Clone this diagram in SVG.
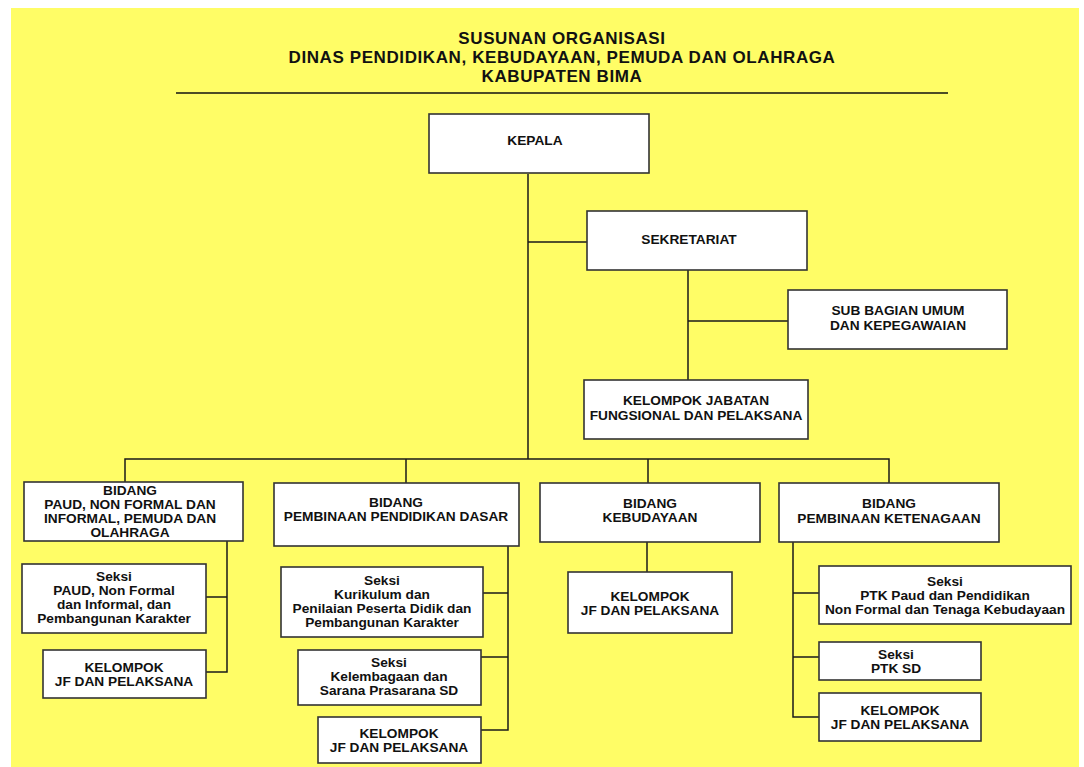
<svg xmlns="http://www.w3.org/2000/svg" width="1084" height="767" viewBox="0 0 1084 767">
<style>
.bg{fill:#FFFD66}
.box{fill:#fff;stroke:#333;stroke-width:1.6}
.ln{fill:none;stroke:#1a1a1a;stroke-width:1.5}
text{font-family:"Liberation Sans",Arial,sans-serif;font-weight:bold;fill:#111;text-anchor:middle}
.t{font-size:13.7px}
.title{font-size:17px;letter-spacing:0.6px}
</style>
<rect x="0" y="0" width="1084" height="767" fill="#fff"/>
<rect class="bg" x="11" y="8" width="1068" height="759"/>
<g id="title">
<text class="title" x="562" y="44">SUSUNAN ORGANISASI</text>
<text class="title" x="562" y="63">DINAS PENDIDIKAN, KEBUDAYAAN, PEMUDA DAN OLAHRAGA</text>
<text class="title" x="562" y="82">KABUPATEN BIMA</text>
<line x1="176" y1="93" x2="948" y2="93" stroke="#111" stroke-width="1.6"/>
</g>
<g id="connectors">
<path class="ln" d="M528 174V459M528 242H587"/>
<path class="ln" d="M688 270V380M688 321H788"/>
<path class="ln" d="M125 482V459H889V483M406 459V483M648 459V483"/>
<path class="ln" d="M227 541V672H206M206 597H227"/>
<path class="ln" d="M508 546V730H481M483 593H508M481 657H508"/>
<path class="ln" d="M647 542V572"/>
<path class="ln" d="M793 542V717H819M793 593H819M793 657H819"/>
</g>
<g id="kepala"><rect class="box" x="429" y="114" width="220" height="59"/><text class="t" x="535" y="145">KEPALA</text></g>
<g id="sekretariat"><rect class="box" x="587" y="211" width="220" height="59"/><text class="t" x="689" y="244">SEKRETARIAT</text></g>
<g id="subbagian"><rect class="box" x="788" y="290" width="219" height="59"/><text class="t" x="898" y="315">SUB BAGIAN UMUM</text><text class="t" x="898" y="330">DAN KEPEGAWAIAN</text></g>
<g id="kjf"><rect class="box" x="584" y="380" width="224" height="59"/><text class="t" x="696" y="405">KELOMPOK JABATAN</text><text class="t" x="696" y="420">FUNGSIONAL DAN PELAKSANA</text></g>
<g id="bidang-paud"><rect class="box" x="24" y="482" width="219" height="59"/><text class="t" x="130" y="495">BIDANG</text><text class="t" x="130" y="509">PAUD, NON FORMAL DAN</text><text class="t" x="130" y="523">INFORMAL, PEMUDA DAN</text><text class="t" x="130" y="537">OLAHRAGA</text></g>
<g id="seksi-paud"><rect class="box" x="22" y="564" width="184" height="69"/><text class="t" x="114" y="581">Seksi</text><text class="t" x="114" y="595">PAUD, Non Formal</text><text class="t" x="114" y="609">dan Informal, dan</text><text class="t" x="114" y="623">Pembangunan Karakter</text></g>
<g id="kelompok-paud"><rect class="box" x="43" y="650" width="163" height="48"/><text class="t" x="124" y="672">KELOMPOK</text><text class="t" x="124" y="686">JF DAN PELAKSANA</text></g>
<g id="bidang-dasar"><rect class="box" x="274" y="483" width="245" height="63"/><text class="t" x="396" y="507">BIDANG</text><text class="t" x="396" y="521">PEMBINAAN PENDIDIKAN DASAR</text></g>
<g id="seksi-kurikulum"><rect class="box" x="281" y="567" width="202" height="70"/><text class="t" x="382" y="585">Seksi</text><text class="t" x="382" y="599">Kurikulum dan</text><text class="t" x="382" y="613">Penilaian Peserta Didik dan</text><text class="t" x="382" y="627">Pembangunan Karakter</text></g>
<g id="seksi-kelembagaan"><rect class="box" x="298" y="650" width="183" height="55"/><text class="t" x="389" y="667">Seksi</text><text class="t" x="389" y="681">Kelembagaan dan</text><text class="t" x="389" y="695">Sarana Prasarana SD</text></g>
<g id="kelompok-dasar"><rect class="box" x="318" y="717" width="163" height="46"/><text class="t" x="399" y="738">KELOMPOK</text><text class="t" x="399" y="752">JF DAN PELAKSANA</text></g>
<g id="bidang-kebudayaan"><rect class="box" x="540" y="483" width="220" height="59"/><text class="t" x="650" y="508">BIDANG</text><text class="t" x="650" y="522">KEBUDAYAAN</text></g>
<g id="kelompok-kebudayaan"><rect class="box" x="568" y="572" width="164" height="61"/><text class="t" x="650" y="601">KELOMPOK</text><text class="t" x="650" y="615">JF DAN PELAKSANA</text></g>
<g id="bidang-ketenagaan"><rect class="box" x="779" y="483" width="220" height="59"/><text class="t" x="889" y="508">BIDANG</text><text class="t" x="889" y="523">PEMBINAAN KETENAGAAN</text></g>
<g id="seksi-ptk-paud"><rect class="box" x="819" y="566" width="252" height="58"/><text class="t" x="945" y="586">Seksi</text><text class="t" x="945" y="600">PTK Paud dan Pendidikan</text><text class="t" x="945" y="614">Non Formal dan Tenaga Kebudayaan</text></g>
<g id="seksi-ptk-sd"><rect class="box" x="819" y="642" width="162" height="38"/><text class="t" x="896" y="659">Seksi</text><text class="t" x="896" y="673">PTK SD</text></g>
<g id="kelompok-ketenagaan"><rect class="box" x="819" y="693" width="162" height="48"/><text class="t" x="900" y="715">KELOMPOK</text><text class="t" x="900" y="729">JF DAN PELAKSANA</text></g>
</svg>
